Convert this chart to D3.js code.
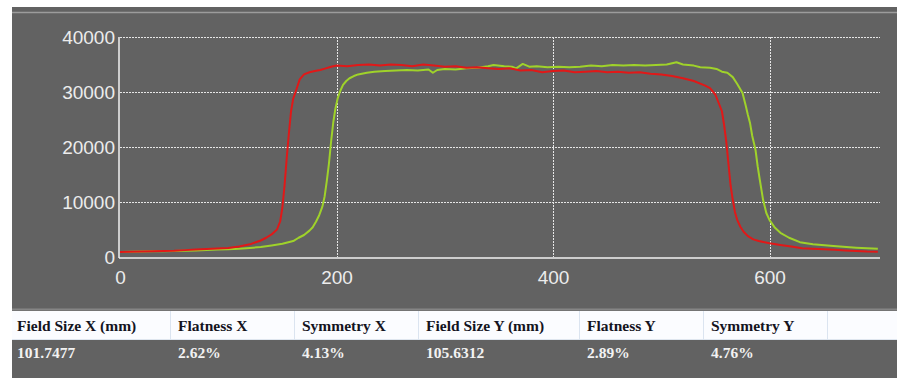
<!DOCTYPE html>
<html>
<head>
<meta charset="utf-8">
<script src="https://cdn.jsdelivr.net/npm/d3@7"></script>
<style>
  html, body { margin: 0; padding: 0; background: #fff; }
  svg { display: block; }
</style>
</head>
<body>
<svg id="chart" width="897" height="378"></svg>
<script>
// profile X (red) - position / dose
const profileXPos = [0, 10, 20, 30, 40, 50, 60, 70, 80, 90, 100, 110, 120, 130, 135, 140, 145, 148, 150, 152, 154, 156, 158, 160, 163, 166, 170, 175, 180, 185, 190, 195, 200, 210, 220, 230, 240, 250, 260, 270, 280, 290, 300, 310, 320, 330, 340, 350, 360, 370, 380, 390, 400, 410, 420, 430, 440, 450, 460, 470, 480, 490, 500, 510, 520, 530, 540, 545, 550, 553, 556, 558, 560, 562, 564, 566, 568, 570, 573, 576, 580, 585, 590, 600, 610, 620, 630, 640, 650, 660, 670, 680, 690, 700];
const profileXVal = [900, 950, 1000, 1050, 1100, 1150, 1250, 1350, 1450, 1550, 1650, 1900, 2300, 3000, 3500, 4100, 5000, 6500, 9000, 13000, 18000, 22500, 26500, 28800, 30500, 32300, 33200, 33600, 33800, 34000, 34300, 34600, 34800, 34700, 34900, 35000, 34800, 35000, 34900, 34700, 35000, 34800, 34600, 34700, 34400, 34500, 34300, 34200, 34300, 33900, 34000, 33600, 33800, 33900, 33600, 33700, 33800, 33600, 33700, 33500, 33600, 33300, 33200, 32900, 32500, 32000, 31200, 30700, 29500, 28000, 26500, 24000, 21000, 17000, 13000, 10400, 8200, 6800, 5500, 4600, 3800, 3200, 2900, 2500, 2200, 1900, 1600, 1500, 1400, 1300, 1200, 1100, 1000, 950];

// profile Y (green)
const profileYPos = [0, 10, 20, 30, 40, 50, 60, 70, 80, 90, 100, 110, 120, 130, 140, 150, 160, 165, 170, 175, 178, 181, 184, 187, 189, 191, 193, 195, 197, 199, 201, 203, 206, 209, 212, 216, 220, 228, 235, 245, 255, 265, 275, 285, 289, 293, 300, 310, 320, 330, 340, 345, 355, 362, 366, 372, 378, 385, 395, 405, 415, 425, 435, 445, 455, 465, 475, 485, 495, 505, 514, 520, 530, 536, 545, 551, 556, 561, 566, 570, 575, 578, 580, 582, 584, 587, 589, 591, 594, 597, 600, 605, 610, 618, 628, 640, 659, 680, 700];
const profileYVal = [900, 950, 1000, 1050, 1050, 1100, 1150, 1200, 1250, 1350, 1400, 1500, 1650, 1800, 2100, 2400, 2900, 3500, 4000, 4800, 5400, 6400, 7600, 9200, 11000, 13800, 17000, 21000, 24500, 27000, 28800, 30000, 31300, 32000, 32500, 32900, 33200, 33500, 33700, 33800, 33900, 34000, 33900, 34100, 33500, 34000, 34200, 34100, 34300, 34400, 34700, 34900, 34700, 34600, 34300, 35100, 34600, 34700, 34500, 34600, 34500, 34600, 34800, 34700, 34900, 34800, 34900, 34800, 34900, 35000, 35400, 35000, 34800, 34500, 34400, 34200, 33700, 33500, 32700, 31500, 29800, 27500, 25800, 24300, 22000, 19500, 16500, 14000, 10400, 8000, 6700, 5300, 4400, 3500, 2700, 2300, 2000, 1700, 1500];

const xTicks = [0, 200, 400, 600];
const yTicks = [0, 10000, 20000, 30000, 40000];

// table below the chart
const tableHeaders = ["Field Size X (mm)", "Flatness X", "Symmetry X", "Field Size Y (mm)", "Flatness Y", "Symmetry Y", ""];
const tableValues = ["101.7477", "2.62%", "4.13%", "105.6312", "2.89%", "4.76%", ""];

const svg = d3.select("#chart");
const W = 897, H = 378;

// 灰色背景面板
svg.append("rect").attr("x", 12).attr("y", 7).attr("width", W - 12).attr("height", H - 7).attr("fill", "#626262");
svg.append("line").attr("x1", 12).attr("x2", W).attr("y1", 12.5).attr("y2", 12.5)
  .attr("stroke", "#9c9c9c").attr("stroke-width", 1.5);

const x = d3.scaleLinear().domain([0, 702]).range([120, 880]);
const y = d3.scaleLinear().domain([0, 40000]).range([257, 37]);

// grid
const gridColor = "#e6e6e6";
svg.append("g").selectAll("line").data(yTicks.filter(d => d > 0)).enter().append("line")
  .attr("x1", x(0)).attr("x2", x(702))
  .attr("y1", d => Math.round(y(d)) + 0.5).attr("y2", d => Math.round(y(d)) + 0.5)
  .attr("stroke", gridColor).attr("stroke-dasharray", "2,1");
svg.append("g").selectAll("line").data(xTicks.filter(d => d > 0)).enter().append("line")
  .attr("x1", d => Math.round(x(d)) + 0.5).attr("x2", d => Math.round(x(d)) + 0.5)
  .attr("y1", y(40000)).attr("y2", y(0))
  .attr("stroke", gridColor).attr("stroke-dasharray", "2,1");

// axes
const xAxis = d3.axisBottom(x).tickValues(xTicks).tickFormat(d3.format("d")).tickSize(0).tickPadding(13);
const yAxis = d3.axisLeft(y).tickValues(yTicks).tickFormat(d3.format("d")).tickSize(0).tickPadding(4);
const gx = svg.append("g").attr("transform", `translate(0,${y(0) + 1})`).call(xAxis);
const gy = svg.append("g").attr("transform", `translate(${x(0) - 1},0)`).call(yAxis);
[gx, gy].forEach(g => {
  g.select(".domain").attr("stroke", "#f2f2f2").attr("stroke-width", 1.5);
  g.selectAll("text").attr("fill", "#ececec").style("font-family", "Liberation Sans, Arial, sans-serif").style("font-size", "19px");
});
gx.select(".domain").attr("d", `M${x(0) - 1},0H${x(702)}`);
gy.select(".domain").attr("d", `M0,${y(40000)}V${y(0) + 1}`);

// profile lines
const line = d3.line().x(d => x(d[0])).y(d => y(d[1]));
const greenData = profileYPos.map((p, i) => [p, profileYVal[i]]);
const redData = profileXPos.map((p, i) => [p, profileXVal[i]]);
svg.append("path").datum(greenData).attr("d", line).attr("fill", "none")
  .attr("stroke", "#9fd22a").attr("stroke-width", 2).attr("stroke-linejoin", "round");
svg.append("path").datum(redData).attr("d", line).attr("fill", "none")
  .attr("stroke", "#e11818").attr("stroke-width", 2).attr("stroke-linejoin", "round");

// table
const colEdges = [12, 170, 294, 418, 579, 703, 827, 897];
const textX = (d, i) => colEdges[i] + (i === 0 ? 5 : 8);
const headTop = 311, headBot = 340;
svg.append("line").attr("x1", 12).attr("x2", W).attr("y1", 309.5).attr("y2", 309.5).attr("stroke", "#858585").attr("stroke-width", 2);
svg.append("rect").attr("x", 12).attr("y", headTop).attr("width", W - 12).attr("height", headBot - headTop).attr("fill", "#fbfcff");
svg.append("line").attr("x1", 12).attr("x2", W).attr("y1", headBot - 0.5).attr("y2", headBot - 0.5).attr("stroke", "#dfe6ef");
svg.append("g").selectAll("line").data(colEdges.slice(1, -1)).enter().append("line")
  .attr("x1", d => d + 0.5).attr("x2", d => d + 0.5).attr("y1", headTop).attr("y2", headBot)
  .attr("stroke", "#dbe4f0");
const tfont = "Liberation Serif, Times New Roman, serif";
svg.append("g").selectAll("text").data(tableHeaders).enter().append("text")
  .attr("x", textX).attr("y", 331)
  .attr("fill", "#14141e").style("font-family", tfont).style("font-weight", "bold").style("font-size", "15.5px")
  .text(d => d);
svg.append("g").selectAll("text").data(tableValues).enter().append("text")
  .attr("x", textX).attr("y", 358)
  .attr("fill", "#f2f2f2").style("font-family", tfont).style("font-weight", "bold").style("font-size", "15.5px")
  .text(d => d);
</script>
</body>
</html>
